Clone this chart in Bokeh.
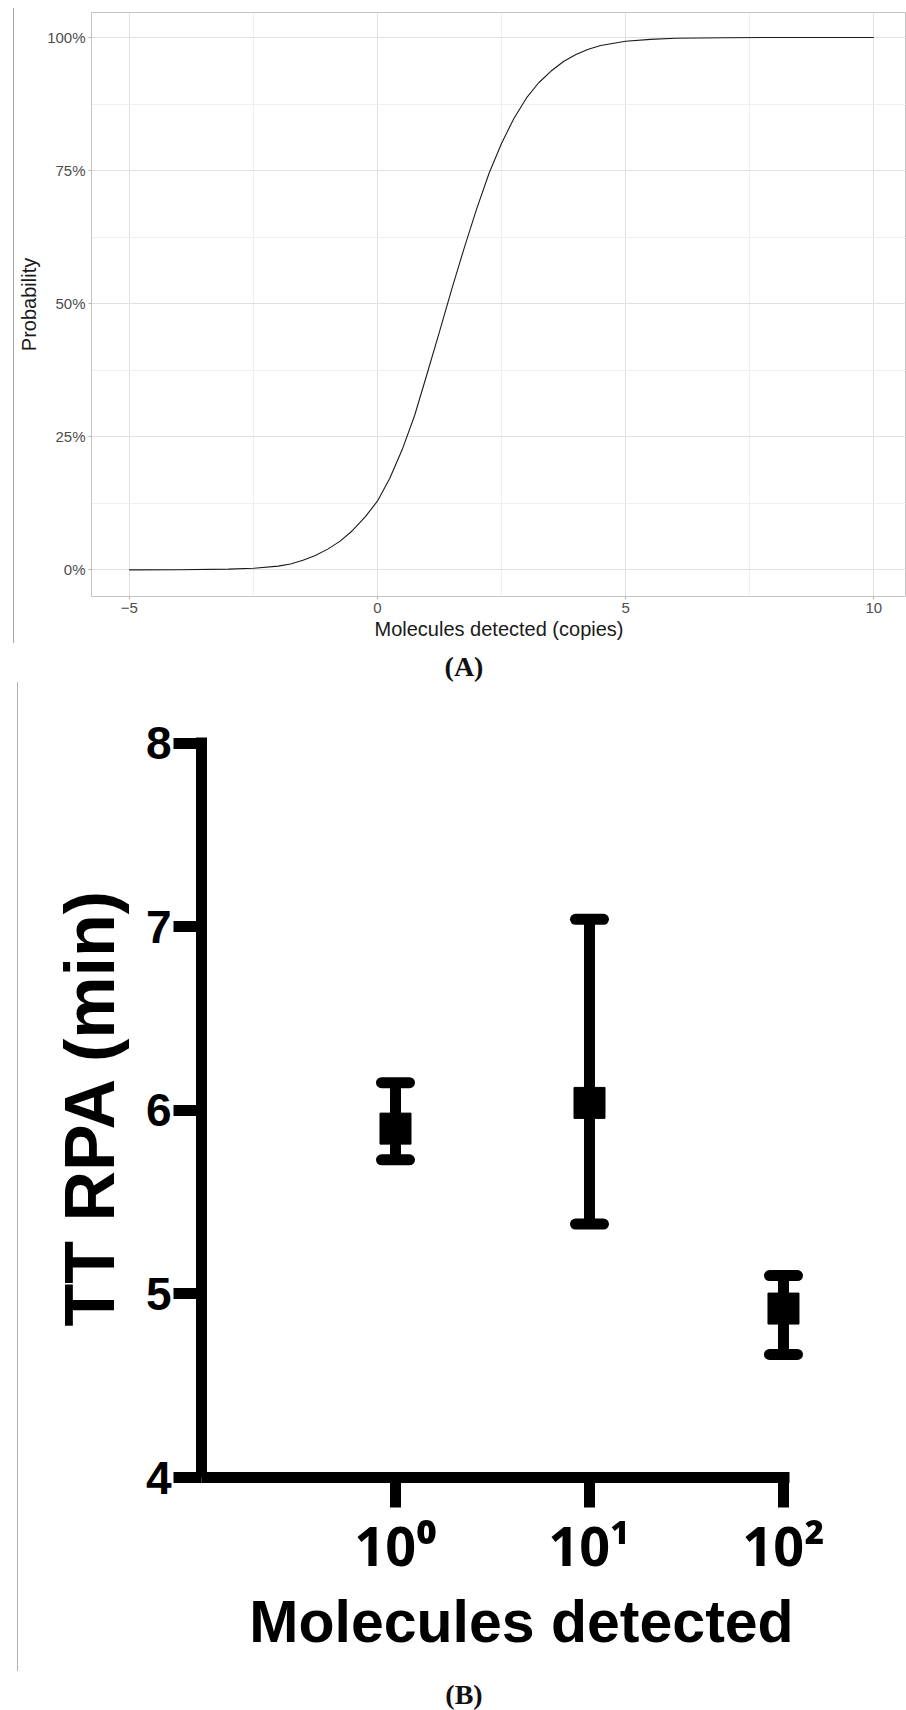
from bokeh.plotting import figure
from bokeh.models import (Range1d, FixedTicker, Whisker, TeeHead, ColumnDataSource,
                          Spacer, Div)
from bokeh.layouts import row, column
from bokeh.embed import file_html
from bokeh.resources import INLINE

# ---------------- Panel A data ----------------
prob_x = [-5, -4, -3, -2.5, -2, -1.75, -1.5, -1.25, -1, -0.75, -0.5, -0.25,
          0, 0.25, 0.5, 0.75, 1, 1.25, 1.5, 1.75, 2, 2.25, 2.5, 2.75, 3,
          3.25, 3.5, 3.75, 4, 4.25, 4.5, 5, 5.5, 6, 7, 8, 10]
prob_y = [0.0000, 0.0003, 0.0015, 0.0030, 0.0070, 0.0110, 0.0180, 0.0270,
          0.0390, 0.0540, 0.0740, 0.0990, 0.1290, 0.1720, 0.2260, 0.2900,
          0.3680, 0.4470, 0.5280, 0.6050, 0.6780, 0.7450, 0.8010, 0.8480,
          0.8860, 0.9150, 0.9370, 0.9550, 0.9680, 0.9780, 0.9850, 0.9930,
          0.9965, 0.9985, 0.9997, 1.0000, 1.0000]
a_xticks = [-5, 0, 5, 10]
a_xtick_labels = ["\u22125", "0", "5", "10"]
a_yticks = [0, 0.25, 0.5, 0.75, 1.0]
a_ytick_labels = ["0%", "25%", "50%", "75%", "100%"]

# ---------------- Panel B data ----------------
molecules = [1, 10, 100]
tt_mean = [5.90, 6.04, 4.92]
tt_lower = [5.73, 5.38, 4.67]
tt_upper = [6.15, 7.04, 5.10]
b_xtick_labels = ["10\u2070", "10\u00b9", "10\u00b2"]
b_yticks = [4, 5, 6, 7, 8]

SANS = "Liberation Sans"

# ---------------- Panel A ----------------
pa = figure(width=892, height=645, x_range=Range1d(-5.76, 10.66),
            y_range=Range1d(-0.05, 1.047), output_backend="svg",
            toolbar_location=None, min_border_left=77, min_border_right=0,
            min_border_top=12, min_border_bottom=49)
pa.background_fill_color = "white"
pa.border_fill_color = "white"
pa.outline_line_color = "#c4c4c4"
pa.outline_line_width = 1

pa.line(prob_x, prob_y, line_color="#1a1a1a", line_width=1.1)

pa.xaxis.ticker = FixedTicker(ticks=a_xticks, minor_ticks=[-7.5, -2.5, 2.5, 7.5])
pa.yaxis.ticker = FixedTicker(ticks=a_yticks,
                              minor_ticks=[-0.125, 0.125, 0.375, 0.625, 0.875, 1.125])
pa.xaxis.major_label_overrides = {t: l for t, l in zip(a_xticks, a_xtick_labels)}
pa.yaxis.major_label_overrides = {t: l for t, l in zip(a_yticks, a_ytick_labels)}
for ax in (pa.xaxis, pa.yaxis):
    ax.axis_line_color = None
    ax.major_tick_line_color = "#b3b3b3"
    ax.major_tick_out = 3
    ax.major_tick_in = 0
    ax.minor_tick_line_color = None
    ax.major_label_text_font = SANS
    ax.major_label_text_font_size = "15px"
    ax.major_label_text_color = "#4d4d4d"
    ax.major_label_standoff = 2
    ax.axis_label_text_font = SANS
    ax.axis_label_text_font_size = "20px"
    ax.axis_label_text_font_style = "normal"
    ax.axis_label_text_color = "#1a1a1a"
    ax.axis_label_standoff = 4
pa.xaxis.axis_label = "Molecules detected (copies)"
pa.yaxis.axis_label = "Probability"
pa.xaxis.axis_label_standoff = 2
pa.grid.grid_line_color = "#e1e1e1"
pa.grid.grid_line_width = 1
pa.grid.minor_grid_line_color = "#efefef"
pa.grid.minor_grid_line_width = 1

# ---------------- Panel B ----------------
pb = figure(width=888, height=989, x_axis_type="log", x_range=Range1d(0.1, 199.1),
            y_range=Range1d(4, 8.03), output_backend="svg", toolbar_location=None,
            min_border_left=183, min_border_right=65, min_border_top=55,
            min_border_bottom=194)
pb.outline_line_color = None
pb.grid.visible = False
pb.background_fill_color = "white"
pb.border_fill_color = "white"

src = ColumnDataSource(dict(x=molecules, mean=tt_mean, lower=tt_lower, upper=tt_upper))
whisk = Whisker(source=src, base="x", upper="upper", lower="lower",
                dimension="height", line_width=11, line_color="black",
                upper_head=TeeHead(size=28, line_width=11, line_color="black",
                                   line_cap="round"),
                lower_head=TeeHead(size=28, line_width=11, line_color="black",
                                   line_cap="round"))
pb.add_layout(whisk)
pb.scatter(x="x", y="mean", source=src, marker="square", size=31,
           fill_color="black", line_color="black")

pb.yaxis.ticker = FixedTicker(ticks=b_yticks)
pb.xaxis.ticker = FixedTicker(ticks=molecules)
pb.xaxis.bounds = (0.1, 107)
pb.xaxis.major_label_overrides = {t: l for t, l in zip(molecules, b_xtick_labels)}
for ax in (pb.xaxis, pb.yaxis):
    ax.axis_line_color = "black"
    ax.axis_line_width = 11
    ax.major_tick_line_color = "black"
    ax.major_tick_line_width = 11
    ax.major_tick_in = 0
    ax.minor_tick_line_color = None
    ax.major_label_text_font = SANS
    ax.major_label_text_font_style = "bold"
    ax.major_label_text_color = "black"
    ax.axis_label_text_font = SANS
    ax.axis_label_text_font_style = "bold"
    ax.axis_label_text_color = "black"
pb.yaxis.major_tick_out = 28
pb.yaxis.major_label_text_font_size = "46px"
pb.yaxis.major_label_standoff = 2
pb.yaxis.axis_label = "TT RPA (min)"
pb.yaxis.axis_label_text_font_size = "70px"
pb.yaxis.axis_label_standoff = 14
pb.xaxis.major_tick_out = 30
pb.xaxis.major_label_text_font = "Noto Sans"
pb.xaxis.major_label_text_font_size = "54px"
pb.xaxis.major_label_standoff = 0
pb.xaxis.axis_label = "Molecules detected"
pb.xaxis.axis_label_text_font_size = "59px"
pb.xaxis.axis_label_standoff = 4

# ---------------- page layout ----------------
line_a = column(Spacer(width=1, height=8),
                Spacer(width=1, height=635, styles={"background-color": "#a8a8a8"}))
row_a = row(Spacer(width=13, height=645), line_a, pa)
line_b = Spacer(width=1, height=989, styles={"background-color": "#b0b0b0"})
row_b = row(Spacer(width=17, height=989), line_b, pb)


def caption(txt, h, pad_top):
    html = ('<div style="width:906px;box-sizing:border-box;padding-left:22px;'
            'text-align:center;font-family:\'Liberation Serif\';font-weight:bold;'
            f'font-size:28px;line-height:30px;padding-top:{pad_top}px;color:#111;">'
            f'{txt}</div>')
    return Div(text=html, width=906, height=h, margin=(0, 0, 0, 0))


cap_a = caption("(A)", 37, 7)
cap_b = caption("(B)", 39, 9)

layout = column(row_a, cap_a, row_b, cap_b)

open("out.html", "w").write(file_html(layout, INLINE))
